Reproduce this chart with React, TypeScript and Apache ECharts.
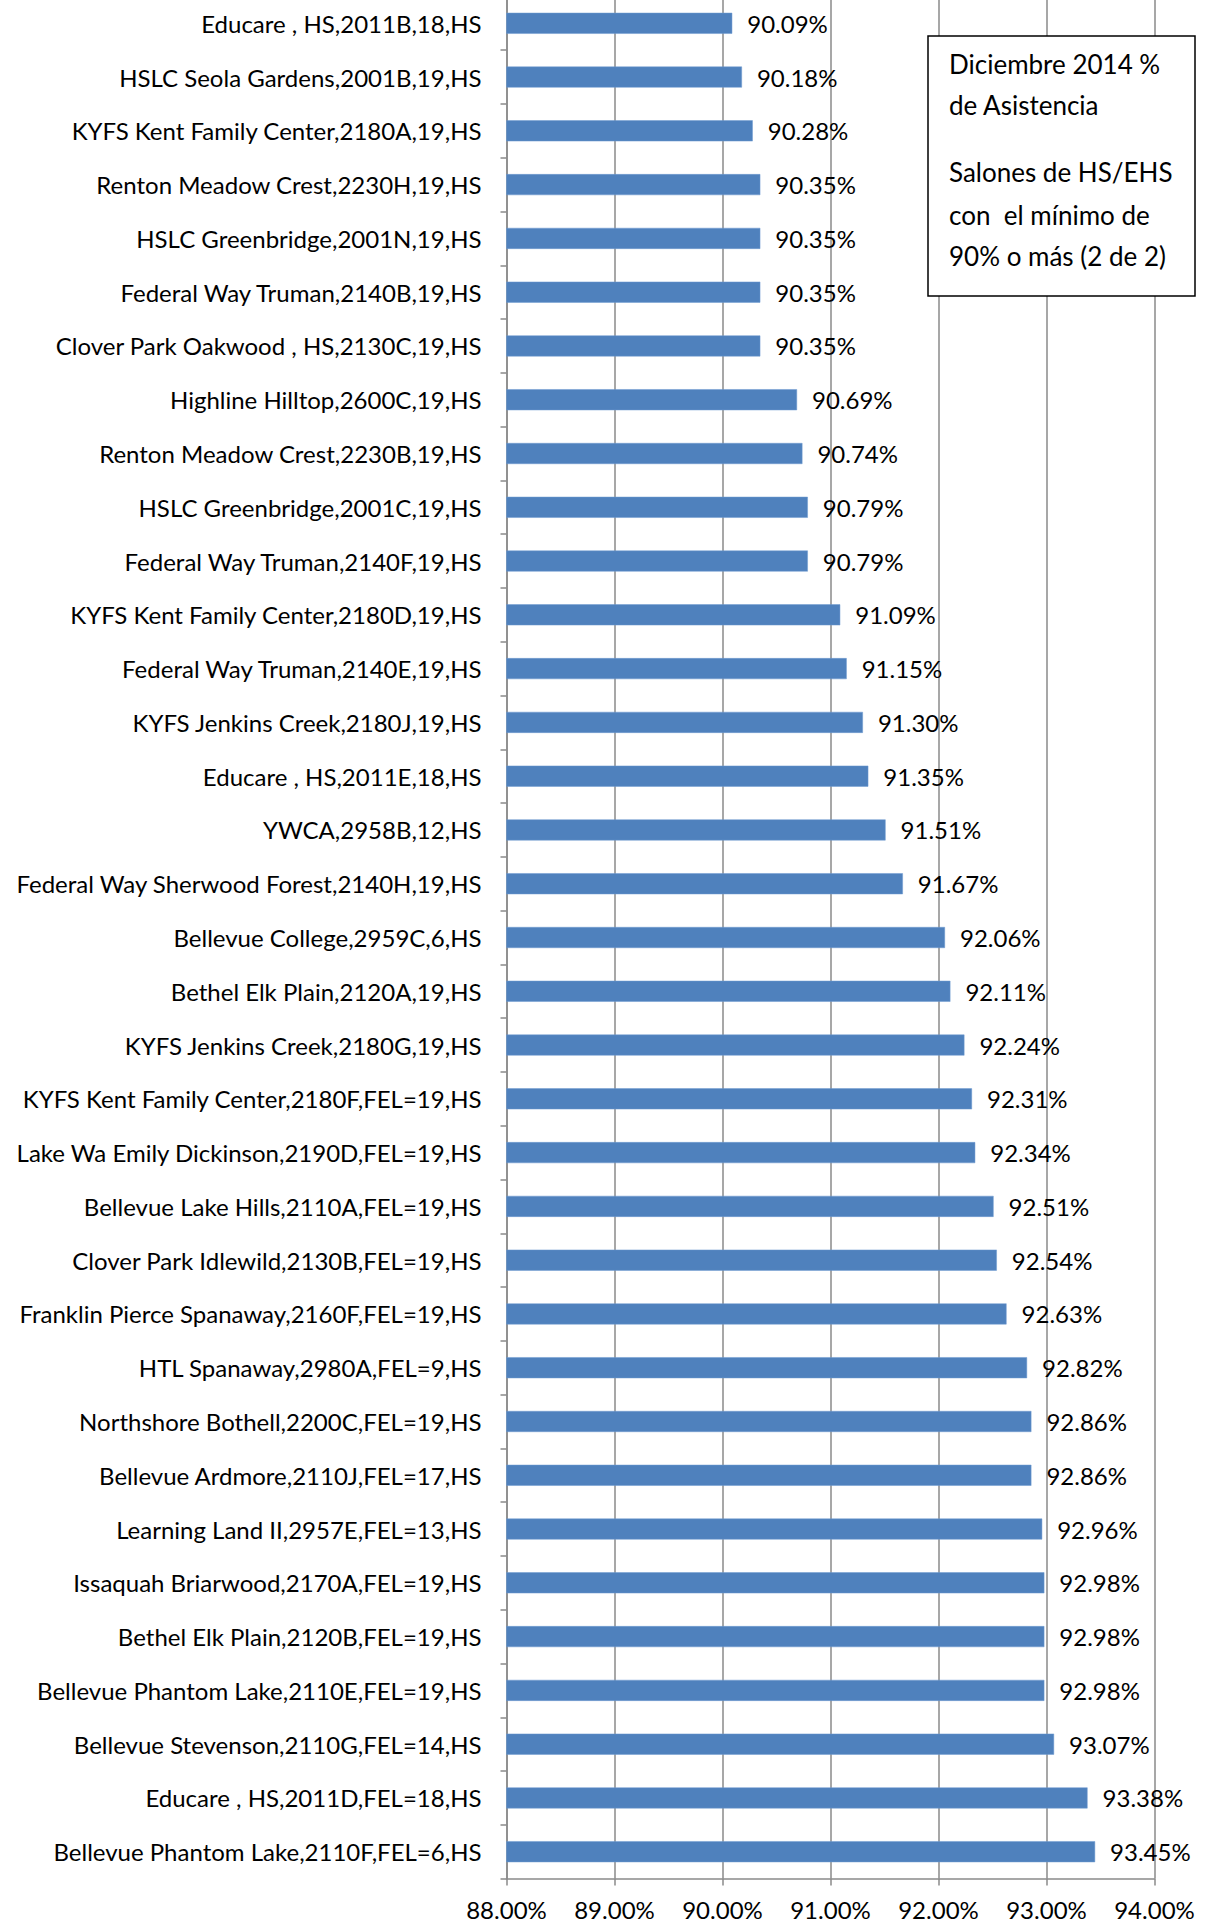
import React, { useEffect, useRef } from "react";
import * as echarts from "echarts";

const categories: string[] = [
  "Educare , HS,2011B,18,HS",
  "HSLC Seola Gardens,2001B,19,HS",
  "KYFS Kent Family Center,2180A,19,HS",
  "Renton Meadow Crest,2230H,19,HS",
  "HSLC Greenbridge,2001N,19,HS",
  "Federal Way Truman,2140B,19,HS",
  "Clover Park Oakwood , HS,2130C,19,HS",
  "Highline Hilltop,2600C,19,HS",
  "Renton Meadow Crest,2230B,19,HS",
  "HSLC Greenbridge,2001C,19,HS",
  "Federal Way Truman,2140F,19,HS",
  "KYFS Kent Family Center,2180D,19,HS",
  "Federal Way Truman,2140E,19,HS",
  "KYFS Jenkins Creek,2180J,19,HS",
  "Educare , HS,2011E,18,HS",
  "YWCA,2958B,12,HS",
  "Federal Way Sherwood Forest,2140H,19,HS",
  "Bellevue College,2959C,6,HS",
  "Bethel Elk Plain,2120A,19,HS",
  "KYFS Jenkins Creek,2180G,19,HS",
  "KYFS Kent Family Center,2180F,FEL=19,HS",
  "Lake Wa Emily Dickinson,2190D,FEL=19,HS",
  "Bellevue Lake Hills,2110A,FEL=19,HS",
  "Clover Park Idlewild,2130B,FEL=19,HS",
  "Franklin Pierce Spanaway,2160F,FEL=19,HS",
  "HTL Spanaway,2980A,FEL=9,HS",
  "Northshore Bothell,2200C,FEL=19,HS",
  "Bellevue Ardmore,2110J,FEL=17,HS",
  "Learning Land II,2957E,FEL=13,HS",
  "Issaquah Briarwood,2170A,FEL=19,HS",
  "Bethel Elk Plain,2120B,FEL=19,HS",
  "Bellevue Phantom Lake,2110E,FEL=19,HS",
  "Bellevue Stevenson,2110G,FEL=14,HS",
  "Educare , HS,2011D,FEL=18,HS",
  "Bellevue Phantom Lake,2110F,FEL=6,HS",
];

const attendance: number[] = [
  90.09, 90.18, 90.28, 90.35, 90.35, 90.35, 90.35, 90.69, 90.74, 90.79, 90.79,
  91.09, 91.15, 91.3, 91.35, 91.51, 91.67, 92.06, 92.11, 92.24, 92.31, 92.34,
  92.51, 92.54, 92.63, 92.82, 92.86, 92.86, 92.96, 92.98, 92.98, 92.98, 93.07,
  93.38, 93.45,
];

const axisMin = 88;
const axisMax = 94;
const axisStep = 1;

const noteLines: string[] = [
  "Diciembre 2014 %",
  "de Asistencia",
  "Salones de HS/EHS",
  "con  el mínimo de",
  "90% o más (2 de 2)",
];

const FONT = "Lato, 'Open Sans', sans-serif";
const SHIFT = 4; // the chart's top edge sits slightly above the page

export default function App() {
  const ref = useRef<HTMLDivElement>(null);

  useEffect(() => {
    if (!ref.current) return;
    const chart = echarts.init(ref.current, undefined, { renderer: "svg" });
    const noteY = [64, 105, 172, 214.5, 255.5].map((v) => v + SHIFT);
    chart.setOption({
      animation: false,
      backgroundColor: "#ffffff",
      grid: { left: 506.5, right: 55.5, top: 0.4, bottom: 45.4, containLabel: false },
      xAxis: {
        type: "value",
        min: axisMin,
        max: axisMax,
        interval: axisStep,
        axisLine: { show: true, lineStyle: { color: "#8a8a8a", width: 1.5 } },
        axisTick: { show: true, length: 7, lineStyle: { color: "#8a8a8a", width: 1.5 } },
        splitLine: { show: true, lineStyle: { color: "#8a8a8a", width: 1.5 } },
        axisLabel: {
          color: "#000",
          fontFamily: FONT,
          fontSize: 24,
          margin: 19,
          formatter: (v: number) => v.toFixed(2) + "%",
        },
      },
      yAxis: {
        type: "category",
        data: categories,
        inverse: true,
        axisLine: { show: true, lineStyle: { color: "#8a8a8a", width: 1.5 } },
        axisTick: { show: true, length: 6, lineStyle: { color: "#8a8a8a", width: 1.5 } },
        axisLabel: {
          color: "#000",
          fontFamily: FONT,
          fontSize: 24,
          margin: 25,
        },
      },
      series: [
        {
          type: "bar",
          data: attendance,
          barWidth: 21,
          itemStyle: { color: "#4F81BD", borderColor: "#6f9ad0", borderWidth: 0.5 },
          label: {
            show: true,
            position: "right",
            distance: 15,
            color: "#000",
            fontFamily: FONT,
            fontSize: 24,
            formatter: (p: any) => Number(p.value).toFixed(2) + "%",
          },
        },
      ],
      graphic: [
        {
          type: "group",
          children: [
            {
              type: "rect",
              shape: { x: 928, y: 36 + SHIFT, width: 267, height: 260 },
              style: { fill: "#ffffff", stroke: "#000000", lineWidth: 1.5 },
              z: 100,
            },
            ...noteLines.map((t, i) => ({
              type: "text",
              x: 949,
              y: noteY[i],
              z: 101,
              style: {
                text: t,
                fill: "#000",
                font: `26px ${FONT}`,
                textVerticalAlign: "middle",
                verticalAlign: "middle",
              },
            })),
          ],
        },
      ],
    });
    return () => chart.dispose();
  }, []);

  return (
    <div
      ref={ref}
      style={{ position: "absolute", left: 0, top: -SHIFT, width: 1210, height: 1924 + SHIFT }}
    />
  );
}
